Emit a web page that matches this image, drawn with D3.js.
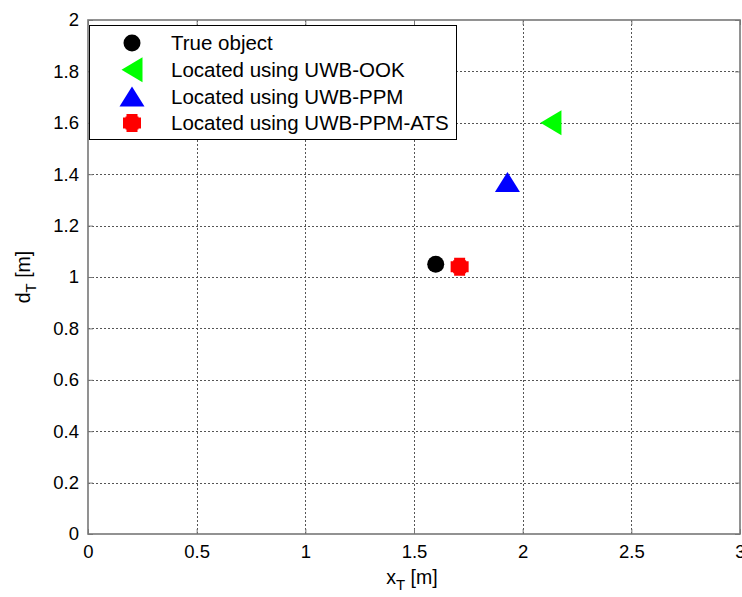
<!DOCTYPE html>
<html>
<head>
<meta charset="utf-8">
<script src="https://cdn.jsdelivr.net/npm/d3@7"></script>
<style>
  html, body { margin: 0; padding: 0; background: #fff; }
  svg { display: block; font-family: "Liberation Sans", Arial, Helvetica, sans-serif; }
</style>
</head>
<body>
<svg id="chart" width="742" height="597"></svg>
<script>
// Estimated positions (metres) of the object and of the three localisation schemes
const seriesNames = ["True object", "Located using UWB-OOK", "Located using UWB-PPM", "Located using UWB-PPM-ATS"];
const seriesX = [1.60, 2.13, 1.93, 1.71];
const seriesY = [1.05, 1.60, 1.37, 1.04];
const seriesColor = ["#000000", "#00ff00", "#0000ff", "#ff0000"];
const seriesShape = ["circle", "triangleLeft", "triangleUp", "plus"];

const xTicks = [0, 0.5, 1, 1.5, 2, 2.5, 3];
const yTicks = [0, 0.2, 0.4, 0.6, 0.8, 1, 1.2, 1.4, 1.6, 1.8, 2];

const svg = d3.select("#chart");
const plotL = 88, plotR = 740, plotT = 20, plotB = 534;

const x = d3.scaleLinear().domain([0, 3]).range([plotL, plotR]);
const y = d3.scaleLinear().domain([0, 2]).range([plotB, plotT]);

// Dotted grid
const grid = svg.append("g").attr("stroke", "#555").attr("stroke-width", 1)
  .attr("stroke-dasharray", "2,2").attr("shape-rendering", "crispEdges");
grid.selectAll("line.vx").data(xTicks.filter(t => t > 0 && t < 3)).join("line")
  .attr("x1", d => Math.round(x(d)) + 0.5).attr("x2", d => Math.round(x(d)) + 0.5)
  .attr("y1", plotT).attr("y2", plotB);
grid.selectAll("line.hy").data(yTicks.filter(t => t > 0 && t < 2)).join("line")
  .attr("y1", d => Math.round(y(d)) + 0.5).attr("y2", d => Math.round(y(d)) + 0.5)
  .attr("x1", plotL).attr("x2", plotR);

// Axes with inward ticks on all four sides
function styleAxis(g) {
  g.select(".domain").remove();
  g.selectAll(".tick line").attr("stroke", "#777");
  g.selectAll(".tick text").attr("fill", "#000").attr("font-size", 18.5)
    .attr("font-family", "'Liberation Sans', Arial, sans-serif");
}
svg.append("g").attr("transform", `translate(0,${plotB})`)
  .call(d3.axisBottom(x).tickValues(xTicks).tickFormat(d3.format("~g")).tickSizeInner(-5).tickPadding(11))
  .call(styleAxis);
svg.append("g").attr("transform", `translate(${plotL},0)`)
  .call(d3.axisLeft(y).tickValues(yTicks).tickFormat(d3.format("~g")).tickSizeInner(-5).tickPadding(9))
  .call(styleAxis);
svg.append("g").attr("transform", `translate(0,${plotT})`)
  .call(d3.axisTop(x).tickValues(xTicks).tickSizeInner(-5).tickFormat(""))
  .call(styleAxis);
svg.append("g").attr("transform", `translate(${plotR},0)`)
  .call(d3.axisRight(y).tickValues(yTicks).tickSizeInner(-5).tickFormat(""))
  .call(styleAxis);

// Plot frame
svg.append("rect").attr("x", plotL).attr("y", plotT)
  .attr("width", plotR - plotL).attr("height", plotB - plotT)
  .attr("fill", "none").attr("stroke", "#777").attr("stroke-width", 1.6);

// Marker drawing
function marker(g, shape, color) {
  if (shape === "circle") {
    g.append("circle").attr("r", 8.5).attr("fill", color);
  } else if (shape === "triangleLeft") {
    g.append("path").attr("d", "M-10.5,0L10.5,-12.5L10.5,12.5Z").attr("fill", color);
  } else if (shape === "triangleUp") {
    g.append("path").attr("d", "M0,-10L12.5,10L-12.5,10Z").attr("fill", color);
  } else if (shape === "plus") {
    const a = 9, b = 5.5, c = 6.5;
    g.append("path").attr("d",
      `M${-b},${-a}H${b}V${-c}H${c}V${-b}H${a}V${b}H${c}V${c}H${b}V${a}H${-b}V${c}H${-c}V${b}H${-a}V${-b}H${-c}V${-c}H${-b}Z`)
      .attr("fill", color);
  }
}

const pts = svg.append("g");
seriesNames.forEach((name, i) => {
  const g = pts.append("g").attr("transform", `translate(${x(seriesX[i])},${y(seriesY[i])})`);
  marker(g, seriesShape[i], seriesColor[i]);
});

// Legend
const lg = svg.append("g");
lg.append("rect").attr("x", 89.5).attr("y", 25.5).attr("width", 367).attr("height", 114)
  .attr("fill", "#fff").attr("stroke", "#000").attr("stroke-width", 1);
seriesNames.forEach((name, i) => {
  const cy = 43 + i * 26.7;
  const g = lg.append("g").attr("transform", `translate(132,${cy})`);
  marker(g, seriesShape[i], seriesColor[i]);
  lg.append("text").attr("x", 171).attr("y", cy).attr("dy", "0.36em")
    .attr("font-size", 20.5).attr("fill", "#000").text(name);
});

// Axis titles
const xl = svg.append("text").attr("x", 412).attr("y", 584).attr("text-anchor", "middle")
  .attr("font-size", 19.5).attr("fill", "#000");
xl.append("tspan").text("x");
xl.append("tspan").attr("font-size", 15).attr("dy", 6).text("T");
xl.append("tspan").attr("dy", -6).text(" [m]");

const yl = svg.append("text").attr("transform", `translate(30,${(plotT + plotB) / 2}) rotate(-90)`)
  .attr("text-anchor", "middle").attr("font-size", 19.5).attr("fill", "#000");
yl.append("tspan").text("d");
yl.append("tspan").attr("font-size", 15).attr("dy", 6).text("T");
yl.append("tspan").attr("dy", -6).text(" [m]");
</script>
</body>
</html>
